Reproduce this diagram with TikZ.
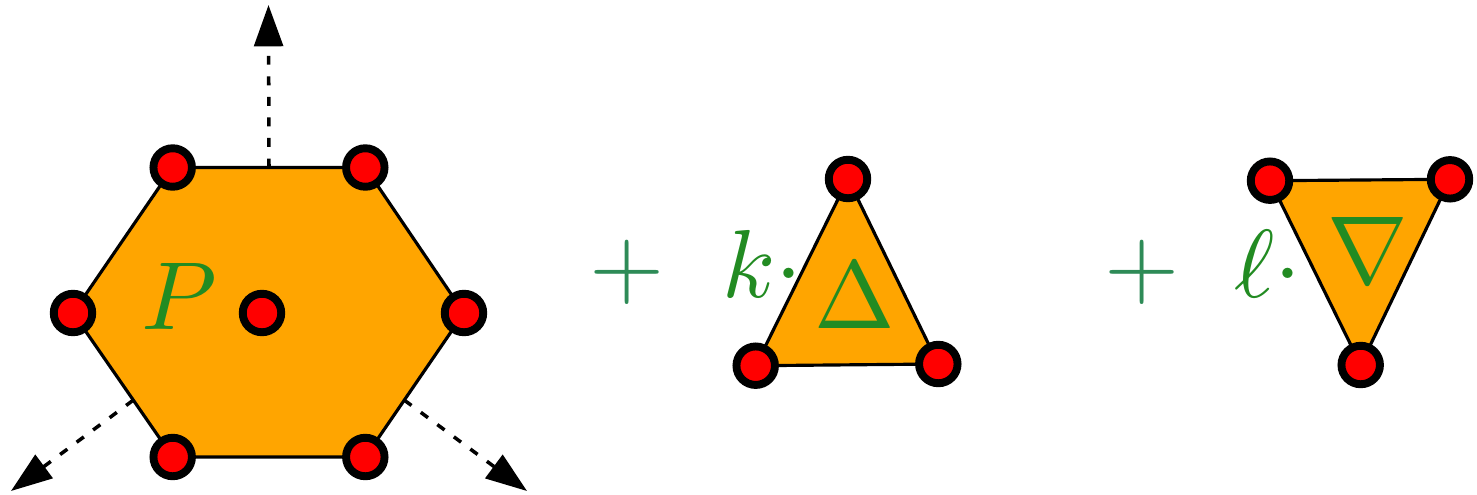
\documentclass[tikz,border=0pt]{standalone}
\usetikzlibrary{arrows.meta,calc}
\definecolor{fillor}{RGB}{255,165,0}
\definecolor{txtgreen}{RGB}{34,139,34}
\definecolor{plusgreen}{RGB}{46,139,87}
\tikzset{
  vdot/.style={circle,draw=black,fill=red,line width=4.5pt,minimum size=0.77cm,inner sep=0pt},
  poly/.style={fill=fillor,draw=black,line width=1.8pt,line join=round},
  dirarrow/.style={draw=black,line width=2pt,dash pattern=on 5.1pt off 6.6pt,
    -{Triangle[length=23.5pt,width=16.4pt]}},
  sym/.style={inner sep=0pt,text=txtgreen},
  plussym/.style={inner sep=0pt,text=plusgreen}
}
\begin{document}
\begin{tikzpicture}[x=0.02cm,y=-0.02cm]
\useasboundingbox (0,0) rectangle (1477,494);
% hexagon
\coordinate (h1) at (172.7,167.5);
\coordinate (h2) at (365.3,167.5);
\coordinate (h3) at (464,313);
\coordinate (h4) at (365.3,457);
\coordinate (h5) at (172.7,457);
\coordinate (h6) at (73,313);
\path[poly] (h1) -- (h2) -- (h3) -- (h4) -- (h5) -- (h6) -- cycle;
% arrows
\coordinate (at) at ($(h1)!0.5!(h2)$);
\coordinate (al) at ($(h6)!0.605!(h5)$);
\coordinate (ar) at ($(h3)!0.605!(h4)$);
\coordinate (tt) at (268.5,5);
\coordinate (tl) at (11,491);
\coordinate (tr) at (527,491);
\draw[dirarrow] (at) -- (tt);
\draw[dirarrow] (al) -- (tl);
\draw[dirarrow] (ar) -- (tr);
% hexagon dots
\foreach \i in {1,...,6} \node[vdot] (d\i) at (h\i) {};
\node[vdot] (dc) at (262,313) {};
\node[sym,anchor=base] (P) at (179,329) {\scalebox{5.5}{$P$}};
% plus 1
\node[plussym] (plus1) at (627,272.7) {\scalebox{5.5}{$+$}};
\node[sym,anchor=base west] (k) at (722,297) {\scalebox{5.5}{$k\cdot$}};
% triangle 1
\coordinate (t1) at (848,179);
\coordinate (t2) at (938.3,364);
\coordinate (t3) at (755.7,365.7);
\path[poly] (t1) -- (t2) -- (t3) -- cycle;
\foreach \i in {1,2,3} \node[vdot] (e\i) at (t\i) {};
\node[sym,anchor=base] (Delta) at (855,328) {\scalebox{5.5}{$\Delta$}};
% plus 2
\node[plussym] (plus2) at (1142,272.7) {\scalebox{5.5}{$+$}};
\node[sym,anchor=base west] (l) at (1234,297) {\scalebox{5.5}{$\ell\cdot$}};
% triangle 2
\coordinate (s1) at (1270,180.7);
\coordinate (s2) at (1450,179.3);
\coordinate (s3) at (1360.7,365);
\path[poly] (s1) -- (s2) -- (s3) -- cycle;
\foreach \i in {1,2,3} \node[vdot] (f\i) at (s\i) {};
\node[sym,anchor=base] (Nabla) at (1368,283) {\scalebox{5.5}{$\nabla$}};
\end{tikzpicture}
\end{document}
